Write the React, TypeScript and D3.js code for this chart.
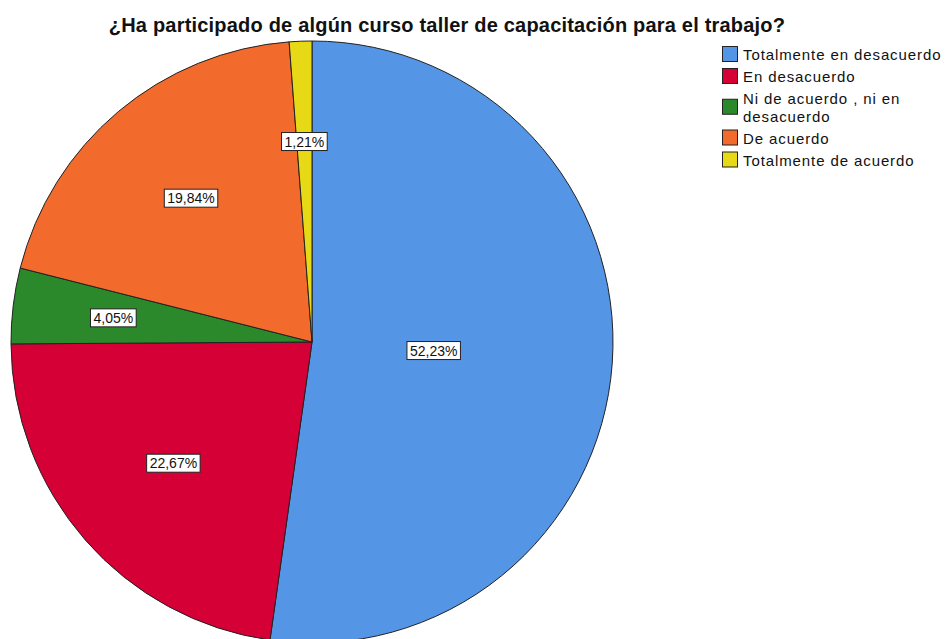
import React, { useEffect, useRef } from 'react'
import * as d3 from 'd3'

// categorías y porcentajes
const categories = [
  'Totalmente en desacuerdo',
  'En desacuerdo',
  'Ni de acuerdo , ni en desacuerdo',
  'De acuerdo',
  'Totalmente de acuerdo',
]
const percents = [52.23, 22.67, 4.05, 19.84, 1.21]
const colors = ['#5595e5', '#d50035', '#2b892b', '#f26a2c', '#e8d916']
const legendLines = [
  ['Totalmente en desacuerdo'],
  ['En desacuerdo'],
  ['Ni de acuerdo , ni en', 'desacuerdo'],
  ['De acuerdo'],
  ['Totalmente de acuerdo'],
]
const title = '¿Ha participado de algún curso taller de capacitación para el trabajo?'

const W = 945
const H = 639
const FONT = 'Arial, "Liberation Sans", sans-serif'

export default function App() {
  const ref = useRef<SVGSVGElement>(null)

  useEffect(() => {
    const svg = d3.select(ref.current)
    svg.selectAll('*').remove()

    const cx = 312, cy = 342, r = 301
    const data = categories.map((c, i) => ({ cat: c, value: percents[i], color: colors[i] }))

    const pie = d3.pie<any>().sort(null).value(d => d.value)
    const arc = d3.arc<any>().innerRadius(0).outerRadius(r)
    const arcs = pie(data)

    const g = svg.append('g').attr('transform', `translate(${cx},${cy})`)
    g.selectAll('path.slice')
      .data(arcs)
      .enter().append('path')
      .attr('class', 'slice')
      .attr('d', arc)
      .attr('fill', d => d.data.color)
      .attr('stroke', '#222')
      .attr('stroke-width', 1)

    // etiquetas en el centroide geométrico de cada sector
    const fmt = (v: number) => v.toFixed(2).replace('.', ',') + '%'
    arcs.forEach(a => {
      const alpha = a.endAngle - a.startAngle
      const mid = (a.startAngle + a.endAngle) / 2
      const dist = (4 * r * Math.sin(alpha / 2)) / (3 * alpha)
      const x = Math.sin(mid) * dist
      const y = -Math.cos(mid) * dist
      const lbl = g.append('g').attr('transform', `translate(${x},${y})`)
      const t = lbl.append('text')
        .attr('text-anchor', 'middle')
        .attr('y', 5)
        .style('font-family', FONT)
        .style('font-size', '14px')
        .attr('fill', '#111')
        .text(fmt(a.data.value))
      const tw = (t.node() as SVGTextElement).getComputedTextLength()
      lbl.insert('rect', 'text')
        .attr('x', -tw / 2 - 3)
        .attr('y', -9)
        .attr('width', tw + 6)
        .attr('height', 18)
        .attr('fill', '#fff')
        .attr('stroke', '#222')
        .attr('stroke-width', 1)
    })

    // título
    svg.append('text')
      .attr('x', 447)
      .attr('y', 32)
      .attr('text-anchor', 'middle')
      .style('font-family', FONT)
      .style('font-size', '20px')
      .style('font-weight', 'bold')
      .style('letter-spacing', '0.2px')
      .attr('fill', '#111')
      .text(title)

    // leyenda
    const lg = svg.append('g').attr('transform', 'translate(722,0)')
    const lineH = 17.5
    let y = 60
    legendLines.forEach((lines, i) => {
      const lastY = y + (lines.length - 1) * lineH
      const boxTop = (y + lastY) / 2 - 14
      lg.append('rect')
        .attr('x', 0.5)
        .attr('y', boxTop + 0.5)
        .attr('width', 15)
        .attr('height', 15)
        .attr('fill', colors[i])
        .attr('stroke', '#222')
        .attr('stroke-width', 1)
      lines.forEach((ln, j) => {
        lg.append('text')
          .attr('x', 21)
          .attr('y', y + j * lineH)
          .style('font-family', FONT)
          .style('font-size', '15px')
          .style('letter-spacing', '0.9px')
          .attr('fill', '#111')
          .text(ln)
      })
      y = lastY + 22
    })
  }, [])

  return (
    <>
      <style>{`body{margin:0}`}</style>
      <svg ref={ref} width={W} height={H} style={{ display: 'block', background: '#fff' }} />
    </>
  )
}
